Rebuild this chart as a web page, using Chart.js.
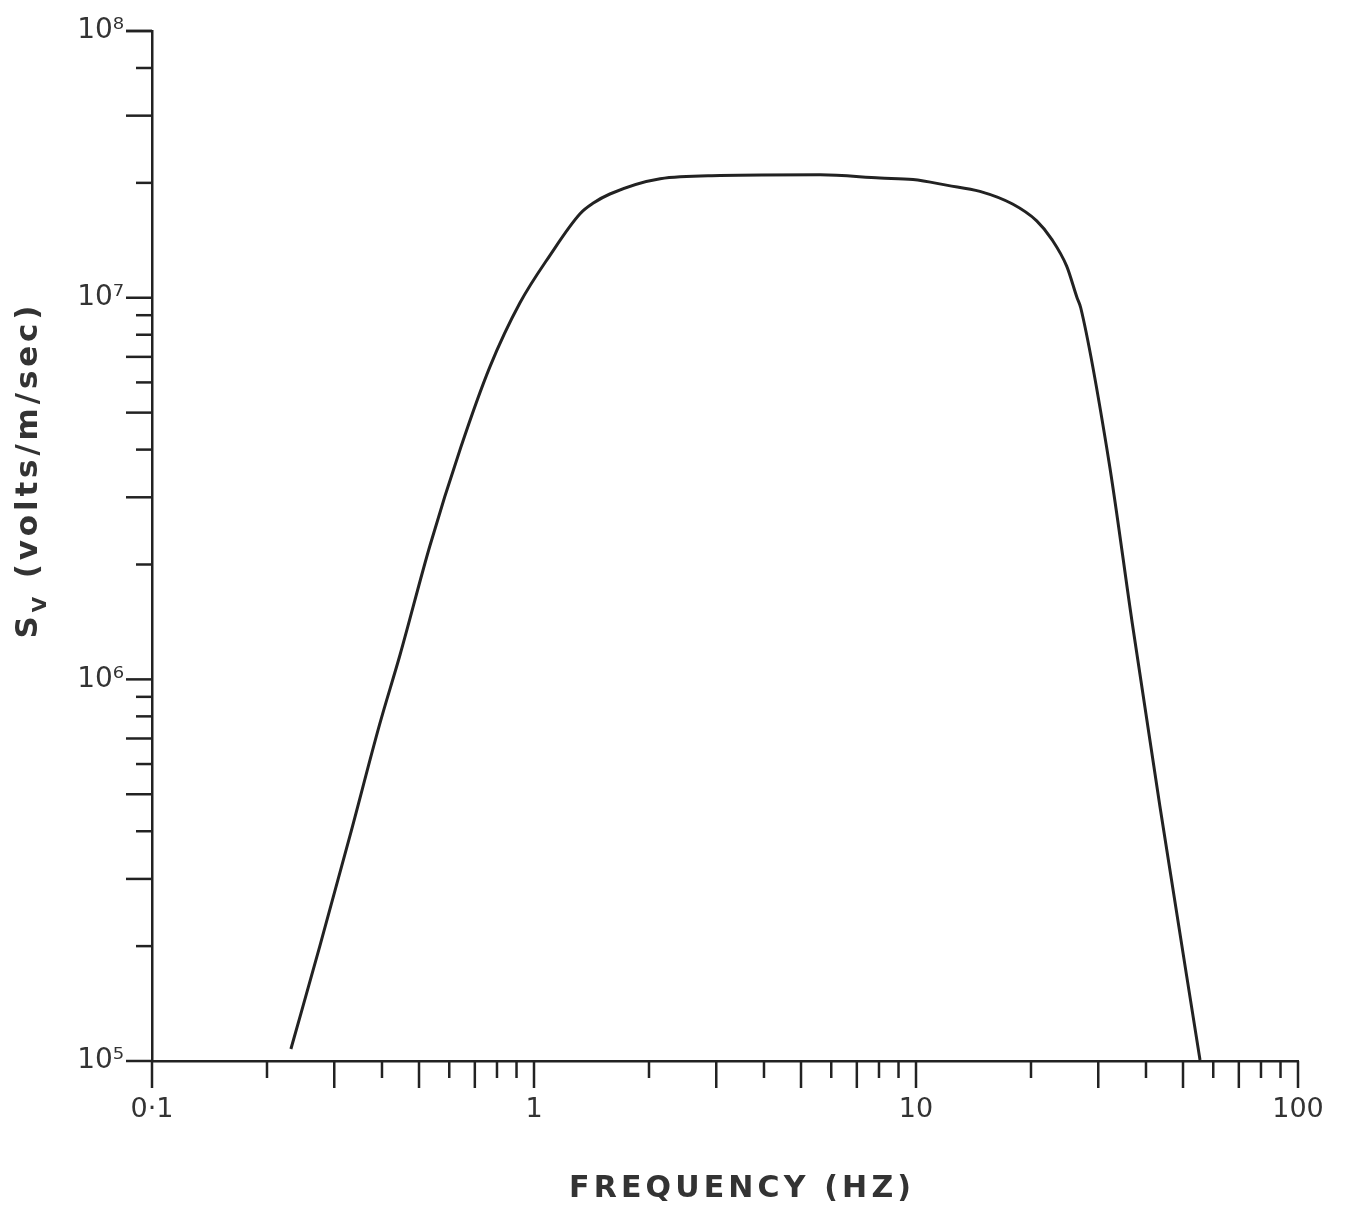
<!DOCTYPE html>
<html>
<head>
<meta charset="utf-8">
<script src="https://cdn.jsdelivr.net/npm/chart.js@4.4.1/dist/chart.umd.min.js"></script>
<style>
  body { margin: 0; background: #fff; }
</style>
</head>
<body>
<canvas id="grafico-sv" width="1348" height="1219"></canvas>
<script>
// valores
const frecuencias = [0.231, 0.275, 0.330, 0.394, 0.446, 0.534, 0.643, 0.767, 0.919, 1.10, 1.32, 1.43, 1.58, 2.14, 3.07, 5.61, 8.05, 9.82, 12.1, 14.7, 17.9, 20.7, 22.7, 24.8, 26.4, 27.0, 32.0, 36.8, 43.5, 55.4];
const sensibilidad = [1.075e5, 2.0e5, 3.9e5, 7.6e5, 1.16e6, 2.24e6, 4.05e6, 6.6e6, 9.7e6, 1.29e7, 1.66e7, 1.77e7, 1.87e7, 2.05e7, 2.09e7, 2.10e7, 2.06e7, 2.04e7, 1.97e7, 1.90e7, 1.76e7, 1.59e7, 1.42e7, 1.21e7, 1.0e7, 9.4e6, 3.72e6, 1.41e6, 4.65e5, 1.006e5];

const xEtiquetas = [0.1, 1, 10, 100];
const xTextos = ['0·1', '1', '10', '100'];
// el eje original termina en ~5e7 pero esta rotulado 10^8
const yEtiquetas = [1e5, 1e6, 1e7, 5e7];
const yTextos = ['10⁵', '10⁶', '10⁷', '10⁸'];

const tinta = '#222';

function marcas(min, max) {
  const out = [];
  for (let d = min; d <= max; d *= 10) {
    for (let m = 1; m < 10; m++) {
      const v = m * d;
      if (v <= max * 1.0001) out.push({ v, largo: [1, 3, 5, 7].includes(m) });
    }
  }
  return out;
}

function sinRelleno(s) {
  s.paddingTop = 0; s.paddingBottom = 0;
  s.paddingLeft = 0; s.paddingRight = 0;
}

function textoEspaciado(ctx, partes, x, y, ancho) {
  // partes: [texto, fuente, desplazamiento]
  ctx.letterSpacing = '0px';
  let natural = 0, n = 0;
  partes.forEach(p => { ctx.font = p[1]; natural += ctx.measureText(p[0]).width; n += p[0].length; });
  const esp = (ancho - natural) / Math.max(n - 1, 1);
  ctx.letterSpacing = esp + 'px';
  let cx = x - ancho / 2;
  partes.forEach(p => {
    ctx.font = p[1];
    ctx.fillText(p[0], cx, y + p[2]);
    cx += ctx.measureText(p[0]).width;
  });
  ctx.letterSpacing = '0px';
}

const ejesPlugin = {
  id: 'ejes',
  afterDraw(chart) {
    const ctx = chart.ctx;
    const xs = chart.scales.x, ys = chart.scales.y;
    const area = chart.chartArea;
    ctx.save();
    ctx.strokeStyle = tinta;
    ctx.lineWidth = 2.5;
    ctx.lineCap = 'butt';
    marcas(1e5, 5e7).forEach(t => {
      const py = ys.getPixelForValue(t.v);
      ctx.beginPath();
      ctx.moveTo(area.left, py);
      ctx.lineTo(area.left - (t.largo ? 26 : 16), py);
      ctx.stroke();
    });
    const top = ys.getPixelForValue(5e7);
    ctx.beginPath(); ctx.moveTo(area.left, top); ctx.lineTo(area.left - 26, top); ctx.stroke();
    marcas(0.1, 100).forEach(t => {
      const px = xs.getPixelForValue(t.v);
      ctx.beginPath();
      ctx.moveTo(px, area.bottom);
      ctx.lineTo(px, area.bottom + (t.largo ? 27 : 17));
      ctx.stroke();
    });

    ctx.fillStyle = '#333';
    ctx.textBaseline = 'alphabetic';
    ctx.textAlign = 'left';
    textoEspaciado(ctx, [['FREQUENCY (HZ)', 'bold 30px "DejaVu Sans"', 0]], 740, 1197, 342);

    ctx.translate(37, 472);
    ctx.rotate(-Math.PI / 2);
    textoEspaciado(ctx, [
      ['S', 'bold 31px "DejaVu Sans"', 0],
      ['V', 'bold 20px "DejaVu Sans"', 9],
      [' (volts/m/sec)', 'bold 31px "DejaVu Sans"', 0]
    ], 0, 0, 333);
    ctx.restore();
  }
};

const ctx = document.getElementById('grafico-sv');
new Chart(ctx, {
  type: 'line',
  data: {
    datasets: [{
      data: frecuencias.map((f, i) => ({ x: f, y: sensibilidad[i] })),
      borderColor: tinta,
      borderWidth: 3,
      pointRadius: 0,
      cubicInterpolationMode: 'monotone',
      fill: false
    }]
  },
  options: {
    responsive: false,
    animation: false,
    layout: { padding: { top: 31, right: 50, left: 0, bottom: 0 } },
    plugins: { legend: { display: false }, tooltip: { enabled: false } },
    scales: {
      x: {
        type: 'logarithmic',
        min: 0.1,
        max: 100,
        grid: { display: false, drawTicks: false },
        border: { display: true, color: tinta, width: 2.5 },
        afterBuildTicks: s => { s.ticks = xEtiquetas.map(v => ({ value: v })); },
        afterFit: s => { s.height = 158; sinRelleno(s); },
        ticks: {
          autoSkip: false,
          maxRotation: 0,
          padding: 33,
          color: '#333',
          font: { family: 'DejaVu Sans', size: 27 },
          callback: v => xTextos[xEtiquetas.indexOf(v)]
        }
      },
      y: {
        type: 'logarithmic',
        min: 1e5,
        max: 5e7,
        grid: { display: false, drawTicks: false },
        border: { display: true, color: tinta, width: 2.5 },
        afterBuildTicks: s => { s.ticks = yEtiquetas.map(v => ({ value: v })); },
        afterFit: s => { s.width = 152; sinRelleno(s); },
        ticks: {
          autoSkip: false,
          padding: 28,
          color: '#333',
          font: { family: 'DejaVu Sans', size: 28 },
          callback: v => yTextos[yEtiquetas.indexOf(v)]
        }
      }
    }
  },
  plugins: [ejesPlugin]
});
</script>
</body>
</html>
